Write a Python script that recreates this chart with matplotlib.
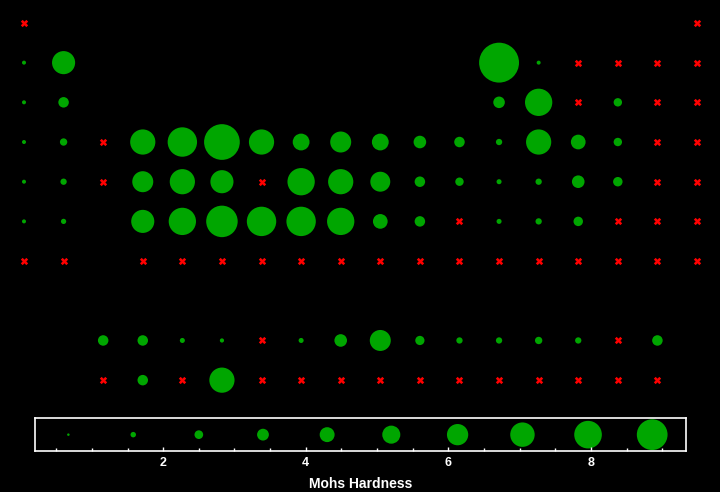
import numpy as np
import matplotlib
matplotlib.use("Agg")
import matplotlib.pyplot as plt
from matplotlib.ticker import MultipleLocator

nan = np.nan
# Mohs hardness per period, 18 groups; nan = no data (red cross), None = no element
period_1 = [nan] + [None] * 16 + [nan]
period_2 = [0.6, 5.5] + [None] * 10 + [9.5, 0.5, nan, nan, nan, nan]
period_3 = [0.5, 2.5] + [None] * 10 + [2.75, 6.5, nan, 2.0, nan, nan]
period_4 = [0.4, 1.75, nan, 6.0, 7.0, 8.5, 6.0, 4.0, 5.0, 4.0, 3.0, 2.5, 1.5, 6.0, 3.5, 2.0, nan, nan]
period_5 = [0.3, 1.5, nan, 5.0, 6.0, 5.5, nan, 6.5, 6.0, 4.75, 2.5, 2.0, 1.2, 1.5, 3.0, 2.25, nan, nan]
period_6 = [0.2, 1.25, None, 5.5, 6.5, 7.5, 7.0, 7.0, 6.5, 3.5, 2.5, nan, 1.2, 1.5, 2.25, nan, nan, nan]
period_7 = [nan, nan, None] + [nan] * 15
# f-block rows, placed in groups 3..17
lanthanides = [2.5, 2.5, 1.2, 1.0, nan, 1.2, 3.0, 5.0, 2.2, 1.5, 1.5, 1.75, 1.5, nan, 2.5]
actinides = [nan, 2.5, nan, 6.0] + [nan] * 11

# legend bubbles
legend_x = [0.67, 1.58, 2.5, 3.4, 4.3, 5.2, 6.13, 7.04, 7.96, 8.86]

green = "#00a600"
red = "#ff0000"

rows = [(1, period_1, 1), (2, period_2, 1), (3, period_3, 1), (4, period_4, 1),
        (5, period_5, 1), (6, period_6, 1), (7, period_7, 1),
        (9, lanthanides, 3), (10, actinides, 3)]

gx, gy, gh, rx, ry = [], [], [], [], []
for y, vals, start in rows:
    for i, v in enumerate(vals):
        if v is None:
            continue
        if np.isnan(v):
            rx.append(start + i)
            ry.append(y)
        else:
            gx.append(start + i)
            gy.append(y)
            gh.append(v)

fig = plt.figure(figsize=(7.2, 4.92), dpi=100)
fig.patch.set_facecolor("black")

W, H = 720, 492
ax = fig.add_axes([4.2 / W, (H - 400) / H, 712.6 / W, 396.9 / H])
ax.set_facecolor("black")
ax.set_xlim(0.5, 18.5)
ax.set_ylim(10.5, 0.5)
ax.axis("off")
diam = np.maximum(4.2 * np.array(gh), 4.0) * 0.72  # px -> pt
ax.scatter(gx, gy, s=diam ** 2, color=green, linewidths=0)
ax.scatter(rx, ry, s=28, marker="X", color=red, linewidths=0)

lax = fig.add_axes([35.3 / W, (H - 451.3) / H, 650.4 / W, 33.3 / H])
lax.set_facecolor("black")
lax.set_xlim(0.206, 9.33)
lax.set_ylim(0, 1)
ldiam = np.maximum(3.47 * np.array(legend_x), 2.5) * 0.72
lax.scatter(legend_x, [0.5] * len(legend_x), s=ldiam ** 2, color=green, linewidths=0)
for sp in lax.spines.values():
    sp.set_color("white")
    sp.set_linewidth(1.2)
lax.set_yticks([])
lax.xaxis.set_major_locator(MultipleLocator(2))
lax.xaxis.set_minor_locator(MultipleLocator(0.5))
lax.tick_params(axis="x", which="major", direction="in", length=3, width=1,
                color="white", labelcolor="white", pad=4, labelsize=9)
lax.tick_params(axis="x", which="minor", direction="in", length=2, width=1, color="white")
for lbl in lax.get_xticklabels():
    lbl.set_fontweight("bold")
    lbl.set_fontfamily("Liberation Sans")
lax.set_xlabel("Mohs Hardness", color="white", fontsize=10, fontweight="bold",
               fontfamily="Liberation Sans", labelpad=6)

fig.savefig("out.png", dpi=100, facecolor="black")
